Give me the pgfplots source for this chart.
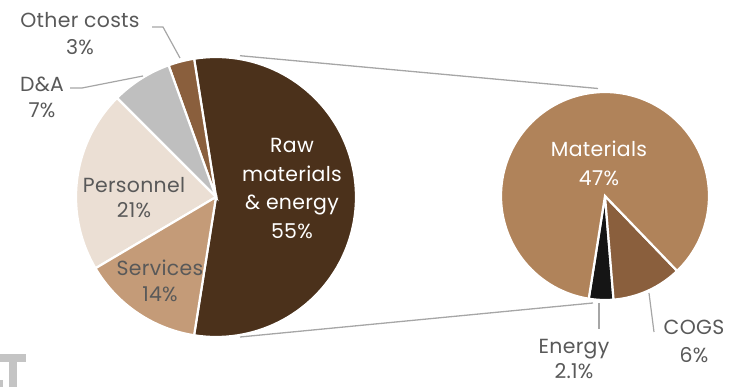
\documentclass[border=0pt]{standalone}
\usepackage{pgfplots}
\pgfplotsset{compat=1.18}
\usepackage{pgfplotstable}
\usepackage{fontspec}
\setmainfont{Poppins}[LetterSpace=1.5]
\definecolor{rawc}{HTML}{4B311B}
\definecolor{otherc}{HTML}{8A5F3D}
\definecolor{dac}{HTML}{BFBFBF}
\definecolor{persc}{HTML}{EBDFD4}
\definecolor{servc}{HTML}{C49B78}
\definecolor{matc}{HTML}{B0835A}
\definecolor{cogsc}{HTML}{8A5F3D}
\definecolor{energyc}{HTML}{151515}
\definecolor{txtc}{HTML}{595959}
\definecolor{linec}{HTML}{A6A6A6}
\definecolor{logoc}{HTML}{C4C4C4}

\pgfplotstableread{
name value
Raw 55
Other 3
DA 7
Personnel 21
Services 14
}\lefttab
\pgfplotstableread{
name value
Energy 2.1
COGS 6
Materials 47
}\righttab

\begin{document}
\begin{tikzpicture}
\pgfplotstablegetelem{0}{value}\of\lefttab \pgfmathsetmacro\vRaw{\pgfplotsretval}
\pgfplotstablegetelem{1}{value}\of\lefttab \pgfmathsetmacro\vOth{\pgfplotsretval}
\pgfplotstablegetelem{2}{value}\of\lefttab \pgfmathsetmacro\vDA{\pgfplotsretval}
\pgfplotstablegetelem{3}{value}\of\lefttab \pgfmathsetmacro\vPer{\pgfplotsretval}
\pgfplotstablegetelem{4}{value}\of\lefttab \pgfmathsetmacro\vSer{\pgfplotsretval}
\pgfplotstablegetelem{0}{value}\of\righttab \pgfmathsetmacro\vEn{\pgfplotsretval}
\pgfplotstablegetelem{1}{value}\of\righttab \pgfmathsetmacro\vCo{\pgfplotsretval}
\pgfplotstablegetelem{2}{value}\of\righttab \pgfmathsetmacro\vMa{\pgfplotsretval}
\pgfmathsetmacro\aA{-1.8*\vRaw}
\pgfmathsetmacro\aB{1.8*\vRaw}
\pgfmathsetmacro\aC{\aB+3.6*\vOth}
\pgfmathsetmacro\aD{\aC+3.6*\vDA}
\pgfmathsetmacro\aE{\aD+3.6*\vPer}
\pgfmathsetmacro\aF{\aE+3.6*\vSer}
\pgfmathsetmacro\tot{\vEn+\vCo+\vMa}
\pgfmathsetmacro\bA{-99}
\pgfmathsetmacro\bB{\bA+360*\vEn/\tot}
\pgfmathsetmacro\bC{\bB+360*\vCo/\tot}
\pgfmathsetmacro\bD{\bA+360}
\begin{axis}[x=1bp,y=1bp,xmin=0,xmax=735,ymin=0,ymax=387,hide axis,clip=false,
  at={(0,0)},anchor=south west]
% connectors
\addplot[linec,line width=1.3bp] coordinates {(240,331.3) (598,298.5)};
\addplot[linec,line width=1.3bp] coordinates {(240,50) (593,84)};
% left pie
\addplot[fill=rawc,draw=white,line width=2.2bp,domain=\aA:\aB,samples=90] ({216+140*cos(x)},{190+140*sin(x)}) -- (axis cs:216,190) -- cycle;
\addplot[fill=otherc,draw=white,line width=2.2bp,domain=\aB:\aC,samples=10] ({216+140*cos(x)},{190+140*sin(x)}) -- (axis cs:216,190) -- cycle;
\addplot[fill=dac,draw=white,line width=2.2bp,domain=\aC:\aD,samples=20] ({216+140*cos(x)},{190+140*sin(x)}) -- (axis cs:216,190) -- cycle;
\addplot[fill=persc,draw=white,line width=2.2bp,domain=\aD:\aE,samples=40] ({216+140*cos(x)},{190+140*sin(x)}) -- (axis cs:216,190) -- cycle;
\addplot[fill=servc,draw=white,line width=2.2bp,domain=\aE:\aF,samples=30] ({216+140*cos(x)},{190+140*sin(x)}) -- (axis cs:216,190) -- cycle;
% right pie
\addplot[fill=energyc,draw=white,line width=2.2bp,domain=\bA:\bB,samples=10] ({605+104*cos(x)},{191+104*sin(x)}) -- (axis cs:605,191) -- cycle;
\addplot[fill=cogsc,draw=white,line width=2.2bp,domain=\bB:\bC,samples=20] ({605+104*cos(x)},{191+104*sin(x)}) -- (axis cs:605,191) -- cycle;
\addplot[fill=matc,draw=white,line width=2.2bp,domain=\bC:\bD,samples=120] ({605+104*cos(x)},{191+104*sin(x)}) -- (axis cs:605,191) -- cycle;
% leader lines
\addplot[linec,line width=1.2bp] coordinates {(152,360) (163,360) (180,329)};
\addplot[linec,line width=1.2bp] coordinates {(70,299) (82,299) (143,311)};
\addplot[linec,line width=1.2bp] coordinates {(599,84) (599,58)};
\addplot[linec,line width=1.2bp] coordinates {(649,94) (654,55)};
% labels
\begin{scope}[every node/.style={align=center,font=\fontsize{20.5}{27}\selectfont,inner sep=0pt}]
\node[text=white,font=\fontsize{20.5}{29}\selectfont] at (axis cs:292,198.5) {Raw\\materials\\\& energy\\55\%};
\node[text=txtc,font=\fontsize{20.5}{25}\selectfont] at (axis cs:134,189) {Personnel\\21\%};
\node[text=txtc,font=\fontsize{20.5}{25.5}\selectfont] at (axis cs:160,106) {Services\\14\%};
\node[text=txtc] at (axis cs:80,353.5) {Other costs\\3\%};
\node[text=txtc,font=\fontsize{20.5}{26}\selectfont] at (axis cs:42,290) {D\&A\\7\%};
\node[text=white,font=\fontsize{20.5}{29}\selectfont] at (axis cs:599,224) {Materials\\47\%};
\node[text=txtc,font=\fontsize{20.5}{25}\selectfont] at (axis cs:574,28) {Energy\\2.1\%};
\node[text=txtc,font=\fontsize{20.5}{28}\selectfont] at (axis cs:694,46) {COGS\\6\%};
\end{scope}
% logo fragment
\fill[logoc] (axis cs:0,33) rectangle (axis cs:26,25);
\fill[logoc] (axis cs:9,25) rectangle (axis cs:17,0);
\fill[logoc] (axis cs:0,7) rectangle (axis cs:3,0);
\end{axis}
\pgfresetboundingbox
\path (0,0) rectangle (735bp,387bp);
\end{tikzpicture}
\end{document}
